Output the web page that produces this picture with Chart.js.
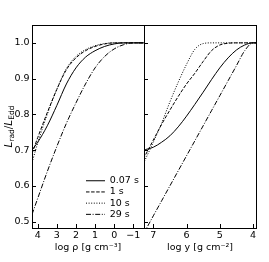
<!DOCTYPE html>
<html><head><meta charset="utf-8">
<script src="https://cdn.jsdelivr.net/npm/chart.js@4.4.1/dist/chart.umd.min.js"></script>
<style>
html,body{margin:0;padding:0;background:#fff;overflow:hidden;}
#wrap{position:relative;width:269px;height:262px;background:#fff;}
canvas{position:absolute;left:0;top:0;}
</style></head><body>
<div id="wrap"><canvas id="cl" width="269" height="262"></canvas><canvas id="cr" width="269" height="262"></canvas></div>
<script>
// ---- data ----
const seriesLabels = ['0.07 s', '1 s', '10 s', '29 s'];

// left panel: log rho [g cm^-3]
const rhoGrid   = [4.3,   4.0,   3.5,   3.0,   2.5,   2.0,   1.5,   1.0,   0.5,   0.0,   -0.5,  -1.0,  -1.56];
const rho_007s  = [0.700, 0.722, 0.768, 0.825, 0.885, 0.930, 0.960, 0.978, 0.990, 0.997, 1.000, 1.000, 1.000];
const rho_1s    = [0.690, 0.735, 0.805, 0.870, 0.925, 0.958, 0.978, 0.990, 0.997, 1.000, 1.000, 1.000, 1.000];
const rho_10s   = [0.665, 0.720, 0.800, 0.870, 0.928, 0.962, 0.981, 0.992, 0.998, 1.000, 1.000, 1.000, 1.000];
const rho_29s   = [0.520, 0.565, 0.640, 0.710, 0.775, 0.832, 0.885, 0.930, 0.962, 0.983, 0.995, 1.000, 1.000];

// right panel: log y [g cm^-2]
const colGrid   = [7.3,   7.0,   6.75,  6.5,   6.25,  6.0,   5.75,  5.5,   5.25,  5.0,   4.75,  4.5,   4.25,  4.0,   3.9];
const col_007s  = [0.700, 0.708, 0.722, 0.740, 0.765, 0.795, 0.828, 0.862, 0.897, 0.930, 0.958, 0.980, 0.994, 1.000, 1.000];
const col_1s    = [0.675, 0.728, 0.772, 0.812, 0.850, 0.885, 0.915, 0.948, 0.978, 0.994, 0.999, 1.000, 1.000, 1.000, 1.000];
const col_10s   = [0.662, 0.722, 0.775, 0.835, 0.890, 0.940, 0.982, 0.998, 1.000, 1.000, 1.000, 1.000, 1.000, 1.000, 1.000];
const col_29s   = [0.465, 0.516, 0.558, 0.600, 0.642, 0.684, 0.726, 0.768, 0.810, 0.852, 0.894, 0.936, 0.978, 1.000, 1.000];

// ticks
const yTickValues   = [0.5, 0.6, 0.7, 0.8, 0.9, 1.0];
const rhoTickValues = [4, 3, 2, 1, 0, -1];
const colTickValues = [7, 6, 5, 4];

const xTitleLeft  = 'log ρ [g cm⁻³]';
const xTitleRight = 'log y [g cm⁻²]';

// ---- styling ----
const FONT = "'DejaVu Sans', sans-serif";
Chart.defaults.font.family = FONT;
Chart.defaults.font.size = 9.5;
Chart.defaults.color = '#000';

const dashes = [[], [3.5, 1.6], [1, 1.6], [5, 1.6, 1, 1.6]];

function makeDatasets(grid, seriesList) {
  return seriesList.map((vals, k) => ({
    label: seriesLabels[k],
    data: grid.map((x, i) => ({x: x, y: vals[i]})),
    borderColor: '#000',
    backgroundColor: 'rgba(0,0,0,0)',
    borderWidth: 1,
    borderDash: dashes[k],
    pointRadius: 0,
    cubicInterpolationMode: 'monotone',
    fill: false
  }));
}

function fmtX(v) { const r = Math.round(v); return r < 0 ? '\u2212' + Math.abs(r) : String(r); }

const TICK = 4;
const px = v => Math.round(v) + 0.5;
const frameTicks = {
  id: 'frameTicks',
  afterDatasetsDraw(chart) {
    const {ctx, chartArea: a} = chart;
    const xs = chart.scales.x, ys = chart.scales.y;
    ctx.save();
    ctx.strokeStyle = '#000';
    ctx.lineWidth = 1;
    ctx.setLineDash([]);
    ctx.beginPath();
    xs.ticks.forEach((t, i) => {
      const p = px(xs.getPixelForTick(i));
      ctx.moveTo(p, a.bottom); ctx.lineTo(p, a.bottom - TICK);
    });
    ys.ticks.forEach((t, i) => {
      const p = px(ys.getPixelForTick(i));
      ctx.moveTo(a.left, p); ctx.lineTo(a.left + TICK, p);
    });
    ctx.stroke();
    const l = px(a.left), r = px(a.right), t = px(a.top), b = px(a.bottom);
    ctx.strokeRect(l, t, r - l, b - t);
    ctx.restore();
  }
};

const yTitle = {
  id: 'yTitle',
  afterDraw(chart) {
    const {ctx, chartArea: a} = chart;
    const parts = [
      ['L', 'italic 10.5px ' + FONT, 0],
      ['rad', '7.5px ' + FONT, 2.2],
      ['/', '10.5px ' + FONT, 0],
      ['L', 'italic 10.5px ' + FONT, 0],
      ['Edd', '7.5px ' + FONT, 2.2]
    ];
    ctx.save();
    let total = 0;
    parts.forEach(p => { ctx.font = p[1]; total += ctx.measureText(p[0]).width; });
    ctx.translate(11.5, (a.top + a.bottom) / 2);
    ctx.rotate(-Math.PI / 2);
    ctx.fillStyle = '#000';
    ctx.textBaseline = 'alphabetic';
    ctx.textAlign = 'left';
    let x = -total / 2;
    parts.forEach(p => { ctx.font = p[1]; ctx.fillText(p[0], x, p[2]); x += ctx.measureText(p[0]).width; });
    ctx.restore();
  }
};

const legendMover = {
  id: 'legendMover',
  afterLayout(chart) {
    const lg = chart.legend;
    if (!lg) return;
    const pad = lg.options.labels.padding;
    lg.left = 86 - pad; lg.right = 144; lg.width = lg.right - lg.left;
    lg.top = 176 - pad; lg.bottom = 262; lg.height = lg.bottom - lg.top;
  }
};

function commonY(showLabels, width) {
  return {
    type: 'linear', min: 0.482, max: 1.05,
    afterBuildTicks: s => { s.ticks = yTickValues.map(v => ({value: v})); },
    afterFit: s => { s.width = width; },
    grid: {display: false, drawTicks: false},
    border: {display: false},
    ticks: {display: showLabels, padding: 2.5, callback: v => Number(v).toFixed(1)}
  };
}

function commonX(min, max, vals, title) {
  return {
    type: 'linear', reverse: true, min: min, max: max,
    afterBuildTicks: s => { s.ticks = vals.map(v => ({value: v})); },
    afterFit: s => { s.height = 34; },
    grid: {display: false, drawTicks: false},
    border: {display: false},
    ticks: {padding: 2, maxRotation: 0, autoSkip: false, callback: v => fmtX(v)},
    title: {display: true, text: title, font: {size: 9.5}, padding: {top: 0, bottom: 9}}
  };
}

new Chart(document.getElementById('cl'), {
  type: 'line',
  data: {datasets: makeDatasets(rhoGrid, [rho_007s, rho_1s, rho_10s, rho_29s])},
  options: {
    responsive: false, animation: false, devicePixelRatio: 1, events: [],
    layout: {padding: {left: 0, top: 25, right: 125, bottom: 0}},
    scales: {x: commonX(-1.56, 4.3, rhoTickValues, xTitleLeft), y: commonY(true, 32)},
    plugins: {
      tooltip: {enabled: false},
      legend: {
        display: true, position: 'chartArea', align: 'start',
        labels: {
          usePointStyle: true, pointStyle: 'line', pointStyleWidth: 19, boxHeight: 9.5,
          padding: 1.7, color: '#000', font: {size: 9.5},
          generateLabels: chart => chart.data.datasets.map((ds, i) => ({
            text: ds.label, datasetIndex: i, fillStyle: 'rgba(0,0,0,0)', strokeStyle: ds.borderColor,
            lineWidth: ds.borderWidth, lineDash: ds.borderDash, lineDashOffset: 0,
            lineCap: 'butt', pointStyle: 'line', hidden: false, fontColor: '#000'
          }))
        }
      }
    }
  },
  plugins: [frameTicks, yTitle, legendMover]
});

new Chart(document.getElementById('cr'), {
  type: 'line',
  data: {datasets: makeDatasets(colGrid, [col_007s, col_1s, col_10s, col_29s])},
  options: {
    responsive: false, animation: false, devicePixelRatio: 1, events: [],
    layout: {padding: {left: 144, top: 25, right: 13, bottom: 0}},
    scales: {x: commonX(3.91, 7.28, colTickValues, xTitleRight), y: commonY(false, 0)},
    plugins: {tooltip: {enabled: false}, legend: {display: false}}
  },
  plugins: [frameTicks]
});
</script>
</body></html>
